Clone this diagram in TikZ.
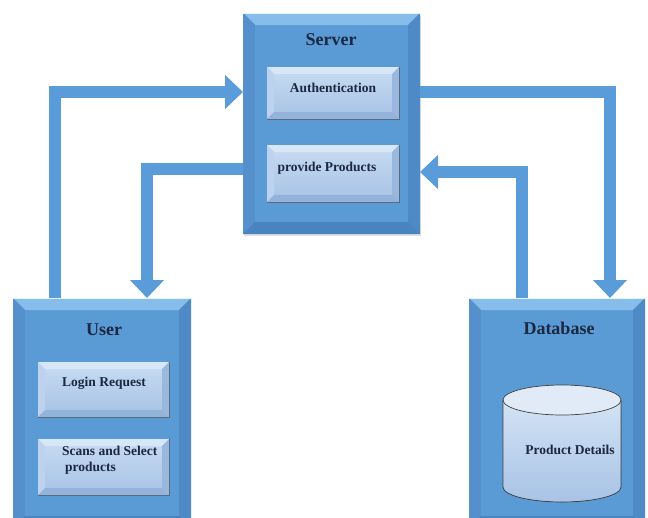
\documentclass[tikz,border=0pt]{standalone}
\usepackage{fontspec}
\setmainfont{Liberation Serif}
\usetikzlibrary{calc,arrows.meta}
\definecolor{face}{HTML}{5B9BD5}
\definecolor{bevTop}{HTML}{86BDEA}
\definecolor{bevLeft}{HTML}{5590CC}
\definecolor{bevRight}{HTML}{4E8AC6}
\definecolor{bevBot}{HTML}{4A84C0}
\definecolor{inTop}{HTML}{C8DCF2}
\definecolor{inBot}{HTML}{A6C2E5}
\definecolor{inBevTop}{HTML}{D8E7F7}
\definecolor{inBevLeft}{HTML}{BCD2EE}
\definecolor{inBevRight}{HTML}{9AB8DE}
\definecolor{inBevBot}{HTML}{94B3DA}
\definecolor{arrowc}{HTML}{5A9BDA}
\definecolor{navy}{HTML}{1C2741}
\definecolor{cylTop}{HTML}{D3E3F4}
\definecolor{cylBot}{HTML}{A8C3E6}
\newcommand\bevelit[6]{%
 \fill[#3] (#1.north west) -- (#1.north east) -- ($(#1.north east)+(-#2,#2)$) -- ($(#1.north west)+(#2,#2)$) -- cycle;
 \fill[#4] (#1.north west) -- ($(#1.north west)+(#2,#2)$) -- ($(#1.south west)+(#2,-#2)$) -- (#1.south west) -- cycle;
 \fill[#5] (#1.north east) -- ($(#1.north east)+(-#2,#2)$) -- ($(#1.south east)+(-#2,-#2)$) -- (#1.south east) -- cycle;
 \fill[#6] (#1.south west) -- ($(#1.south west)+(#2,-#2)$) -- ($(#1.south east)+(-#2,-#2)$) -- (#1.south east) -- cycle;
}
\tikzset{
 outerbox/.style={rectangle, fill=face, inner sep=0pt, outer sep=0pt},
 innerbox/.style={rectangle, top color=inTop, bottom color=inBot, inner sep=0pt, outer sep=0pt},
 title/.style={font=\fontsize{18}{20}\selectfont\bfseries, text=navy, inner sep=0pt},
 lbl/.style={font=\fontsize{13.5}{16}\selectfont\bfseries, text=navy, inner sep=0pt},
 flow/.style={draw=arrowc, line width=12pt, line join=miter, -{Triangle[width=33pt,length=18pt]}},
}
\begin{document}
\begin{tikzpicture}[x=1pt,y=-1pt]
\useasboundingbox (0,0) rectangle (648,517);
\fill[white] (0,0) rectangle (648,517);
\clip (0,0) rectangle (648,517);
% outer boxes
\fill[black!12] (244,16) rectangle (421,236);
\node[outerbox, minimum width=177pt, minimum height=221pt] (server) at (331.5,123.5) {};
\node[outerbox, minimum width=178pt, minimum height=230pt] (user) at (102,413) {};
\node[outerbox, minimum width=176pt, minimum height=230pt] (db) at (557,413) {};
\bevelit{server}{12}{bevTop}{bevLeft}{bevRight}{bevBot}
\bevelit{user}{12}{bevTop}{bevLeft}{bevRight}{bevBot}
\bevelit{db}{12}{bevTop}{bevLeft}{bevRight}{bevBot}
\draw[white!60!cyan!30, line width=1pt] (server.north west) -- (server.north east);
\draw[white!60!cyan!30, line width=1pt] (user.north west) -- (user.north east);
\draw[white!60!cyan!30, line width=1pt] (db.north west) -- (db.north east);
% connectors
\draw[flow] ($(user.north west)+(42,0)$) |- ($(server.north west)+(0,79)$);
\draw[flow] ($(server.north west)+(0,156)$) -| ($(user.north west)+(134,0)$);
\draw[flow] ($(server.north east)+(0,79)$) -| ($(db.north west)+(141,0)$);
\draw[flow] ($(db.north west)+(53,0)$) |- ($(server.north east)+(0,159)$);
% inner boxes
\node[innerbox, minimum width=132pt, minimum height=52pt] (auth) at (333,93) {};
\node[innerbox, minimum width=132pt, minimum height=57pt] (prov) at (333,173.5) {};
\node[innerbox, minimum width=131pt, minimum height=55pt] (login) at (103.5,389.5) {};
\node[innerbox, minimum width=131pt, minimum height=56pt] (scan) at (103.5,467) {};
\foreach \b in {auth,prov,login,scan}{
 \bevelit{\b}{7}{inBevTop}{inBevLeft}{inBevRight}{inBevBot}
 \draw[inBevBot!60!black, line width=0.5pt] (\b.south west) -- (\b.south east) -- (\b.north east);
}
% cylinder
\coordinate (cyl) at (562,443);
\fill[top color=cylTop, bottom color=cylBot] (503,400) -- (503,487) arc[start angle=180, end angle=0, x radius=59, y radius=15] -- (621,400) -- cycle;
\fill[cylTop!70!white] (562,400) ellipse [x radius=59, y radius=15];
\draw[black!75, line width=0.7pt] (503,400) -- (503,487) arc[start angle=180, end angle=0, x radius=59, y radius=15] -- (621,400);
\draw[black!75, line width=0.7pt] (562,400) ellipse [x radius=59, y radius=15];
% texts
\node[title] (serverT) at (331,40) {Server};
\node[title] (userT) at (104,330) {User};
\node[title] (dbT) at (559,328) {Database};
\node[lbl] (authT) at (333,88) {Authentication};
\node[lbl] (provT) at (327,168) {provide Products};
\node[lbl] (loginT) at (104,383) {Login Request};
\node[lbl, anchor=west, align=left] (scanT) at (62,460) {Scans and Select\\\hspace{3pt}products};
\node[lbl] (cylT) at (570,450) {Product Details};
\end{tikzpicture}
\end{document}
